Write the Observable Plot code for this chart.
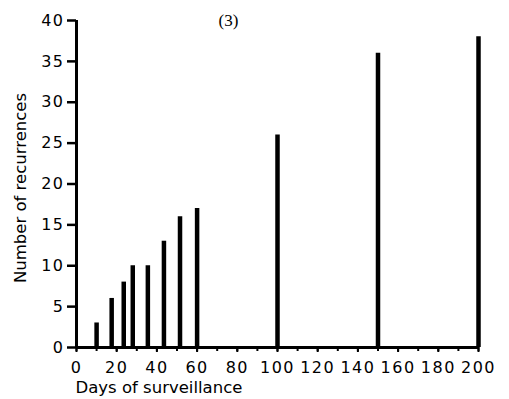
<!DOCTYPE html>
<html>
<head>
<meta charset="utf-8">
<script src="https://cdn.jsdelivr.net/npm/d3@7"></script>
<script src="https://cdn.jsdelivr.net/npm/@observablehq/plot@0.6"></script>
<style>
  html, body { margin: 0; padding: 0; background: #fff; }
  #chart { width: 509px; height: 399px; }
</style>
</head>
<body>
<div id="chart"></div>
<script>
const days = [10, 17.5, 23.5, 28, 35.5, 43.5, 51.5, 60, 100, 150, 200];
const recurrences = [3, 6, 8, 10, 10, 13, 16, 17, 26, 36, 38];
const xTicks = [0, 20, 40, 60, 80, 100, 120, 140, 160, 180, 200];
const xMinorTicks = d3.range(0, 201, 10);
const yTicks = [0, 5, 10, 15, 20, 25, 30, 35, 40];
const title = "(3)";
const xLabel = "Days of surveillance";
const yLabel = "Number of recurrences";

const data = days.map((d, i) => ({day: d, n: recurrences[i]}));
const font = "'DejaVu Sans', sans-serif";

const chart = Plot.plot({
  width: 509,
  height: 399,
  marginLeft: 76,
  marginRight: 31,
  marginTop: 20,
  marginBottom: 52,
  style: {fontFamily: font, color: "#000", background: "#fff"},
  x: {domain: [0, 200]},
  y: {domain: [0, 40]},
  marks: [
    Plot.axisX({ticks: xMinorTicks, tickSize: 4, tickFormat: () => "", label: null, strokeWidth: 2}),
    Plot.axisX({ticks: xTicks, tickSize: 5, tickPadding: 9, fontSize: 16, label: null, strokeWidth: 2,
      tickFormat: d => String(d)}),
    Plot.axisY({ticks: yTicks, tickSize: 9, tickPadding: 3, fontSize: 16, label: null, strokeWidth: 2.5}),
    Plot.ruleX(data, {x: "day", y1: 0, y2: "n", strokeWidth: 4.5, stroke: "#000"}),
    Plot.ruleY([0], {x1: 0, x2: 200, strokeWidth: 3, stroke: "#000"}),
    Plot.ruleX([0], {y1: 0, y2: 40, strokeWidth: 3, stroke: "#000"}),
    Plot.text([xLabel], {frameAnchor: "bottom-left", dy: 45, dx: -1, textAnchor: "start", lineAnchor: "bottom", fontSize: 16.5, fill: "#000"}),
    Plot.text([yLabel], {frameAnchor: "left", dx: -56, dy: 4, rotate: -90, textAnchor: "middle", lineAnchor: "middle", fontSize: 16.5, fill: "#000"}),
    Plot.text([title], {frameAnchor: "top-left", dx: 152, dy: 0, textAnchor: "middle", lineAnchor: "middle", fontSize: 17, fontFamily: "'Liberation Serif', serif", fill: "#000"})
  ]
});
d3.select(chart).selectAll('g[aria-label="x-axis tick label"], g[aria-label="y-axis tick label"]')
  .attr("font-size", 16);
d3.select(chart).selectAll('g[aria-label="x-axis tick label"] text, g[aria-label="y-axis tick label"] text')
  .style("font-size", "16px")
  .style("letter-spacing", "1.5px");
document.getElementById("chart").appendChild(chart);
</script>
</body>
</html>
